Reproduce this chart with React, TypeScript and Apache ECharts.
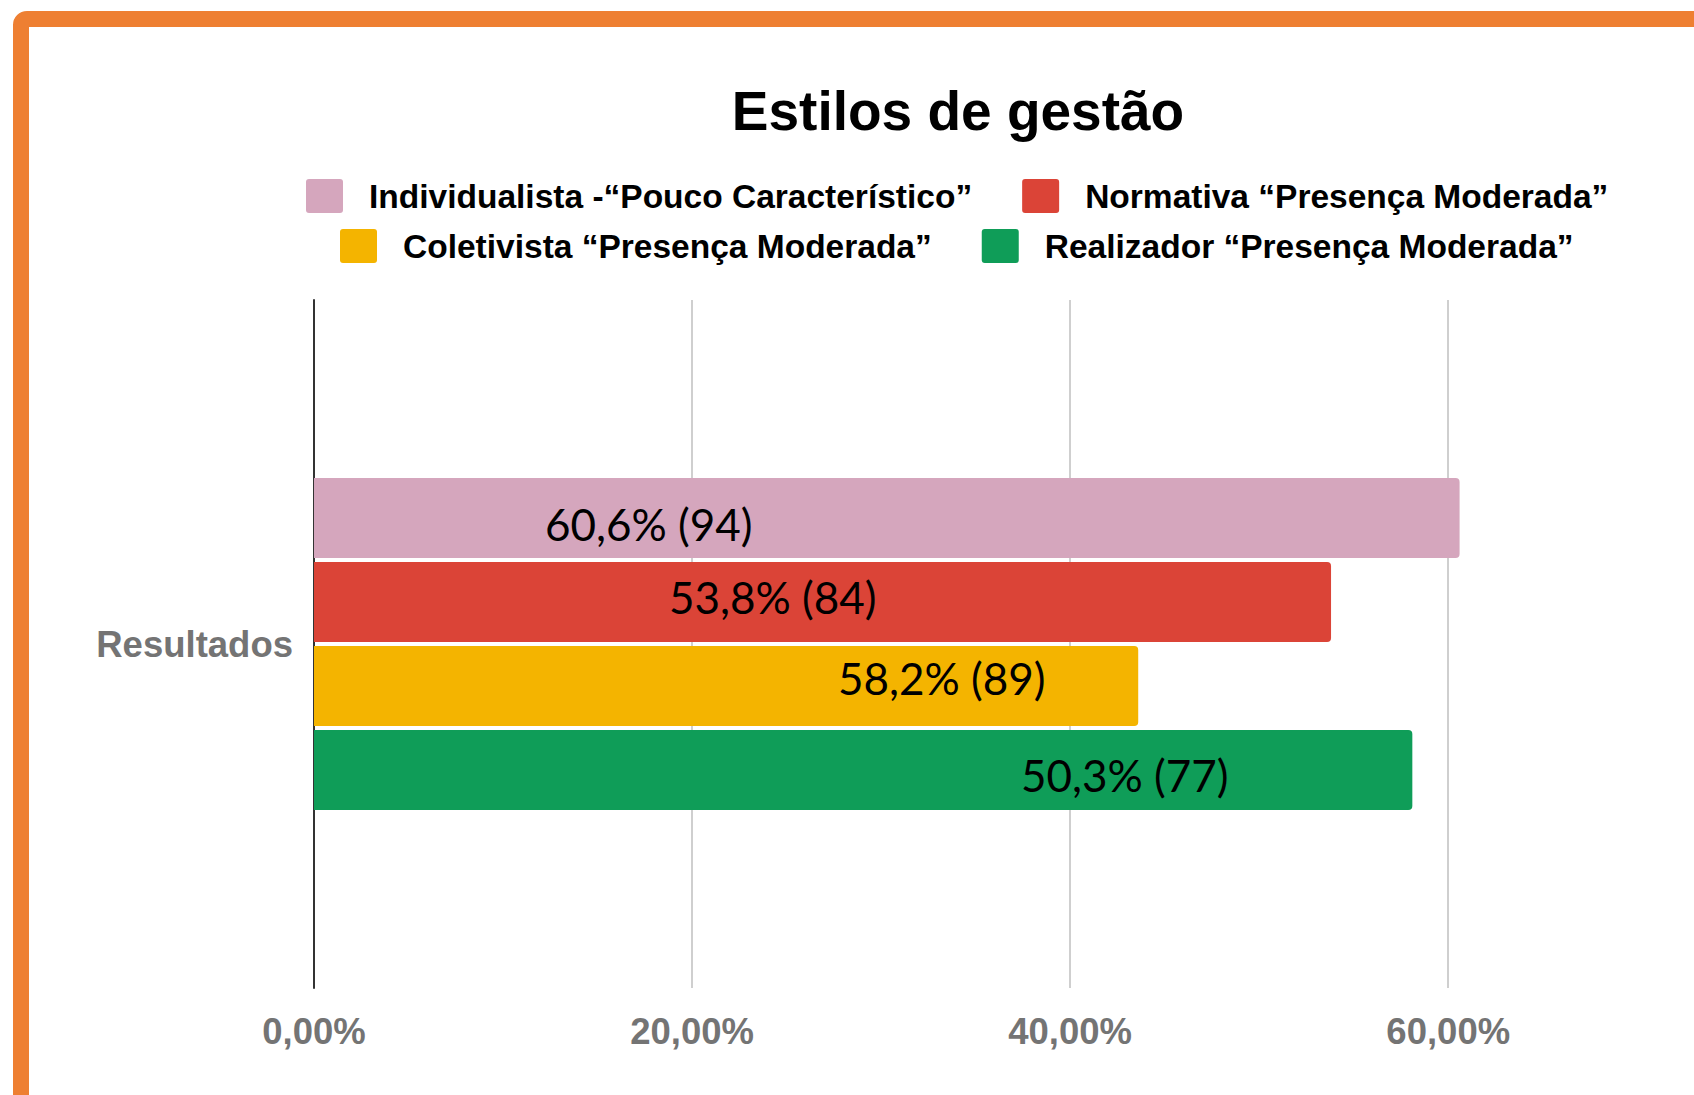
import React, { useEffect, useRef } from "react";
import * as echarts from "echarts";

// ---- data ----
const categories = ["Resultados"];
const seriesNames = [
  "Individualista -“Pouco Característico”",
  "Normativa “Presença Moderada”",
  "Coletivista “Presença Moderada”",
  "Realizador “Presença Moderada”",
];
const seriesValues = [60.6, 53.8, 43.6, 58.1];
const barLabelTexts = ["60,6% (94)", "53,8% (84)", "58,2% (89)", "50,3% (77)"];
const xTickValues = [0, 20, 40, 60];
const titleText = "Estilos de gestão";

// ---- styles ----
const seriesColors = ["#D5A6BD", "#DB4437", "#F4B400", "#0F9D58"];
const labelPlacement = [
  [231, 46],
  [355, 35],
  [524, 32],
  [707, 45],
];

const ARIAL = "Arial, 'Liberation Sans', sans-serif";
const MARKER =
  "path://M3,0 H34 Q37,0 37,3 V31 Q37,34 34,34 H3 Q0,34 0,31 V3 Q0,0 3,0 Z";

export default function App() {
  const ref = useRef<HTMLDivElement>(null);

  useEffect(() => {
    if (!ref.current) return;
    const chart = echarts.init(ref.current, null, { renderer: "svg" });

    const legendItem = (names: string[], left: number, top: number) => ({
      data: names,
      left,
      top,
      orient: "horizontal",
      padding: 0,
      itemGap: 50,
      itemWidth: 37,
      itemHeight: 34,
      icon: MARKER,
      selectedMode: false,
      textStyle: {
        fontFamily: ARIAL,
        fontWeight: "bold",
        fontSize: 33.5,
        color: "#000",
        padding: [0, 0, 0, 21],
      },
    });

    const option: any = {
      animation: false,
      backgroundColor: "#fff",
      title: {
        text: titleText,
        left: 958,
        textAlign: "center",
        top: 83,
        padding: 0,
        textStyle: {
          fontFamily: ARIAL,
          fontWeight: "bold",
          fontSize: 55,
          color: "#000",
        },
      },
      legend: [
        legendItem([seriesNames[0], seriesNames[1]], 306, 179),
        legendItem([seriesNames[2], seriesNames[3]], 340, 229),
      ],
      grid: {
        left: 314,
        top: 300,
        width: 1380,
        height: 688,
        containLabel: false,
      },
      xAxis: {
        type: "value",
        min: 0,
        max: 73,
        interval: 20,
        axisLine: { show: false },
        axisTick: { show: false },
        splitLine: {
          show: true,
          showMaxLine: false,
          lineStyle: { color: "#cfcfcf", width: 2 },
        },
        axisLabel: {
          margin: 25,
          fontFamily: ARIAL,
          fontWeight: "bold",
          fontSize: 36.5,
          color: "#747474",
          showMaxLabel: false,
          formatter: (v: number) =>
            xTickValues.includes(v) ? v.toFixed(2).replace(".", ",") + "%" : "",
        },
      },
      yAxis: {
        type: "category",
        data: categories,
        axisLine: { show: true, lineStyle: { color: "#333", width: 2 } },
        axisTick: { show: false },
        axisLabel: {
          margin: 21,
          fontFamily: ARIAL,
          fontWeight: "bold",
          fontSize: 36.5,
          color: "#747474",
        },
      },
      series: seriesNames.map((name, i) => ({
        name,
        type: "bar",
        data: [seriesValues[i]],
        barWidth: 80,
        barGap: "5%",
        itemStyle: { color: seriesColors[i], borderRadius: [0, 4, 4, 0] },
        label: {
          show: true,
          position: labelPlacement[i],
          align: "left",
          verticalAlign: "middle",
          formatter: () => barLabelTexts[i],
          fontFamily: "Lato, 'Open Sans', sans-serif",
          fontSize: 44,
          color: "#000",
        },
      })),
      graphic: [
        {
          type: "rect",
          silent: true,
          z: 100,
          shape: { x: 21, y: 19, width: 1800, height: 1300, r: 6 },
          style: { fill: "none", stroke: "#EE7F32", lineWidth: 16 },
        },
      ],
    };

    chart.setOption(option);
    return () => chart.dispose();
  }, []);

  return (
    <div
      ref={ref}
      style={{ position: "fixed", left: 0, top: 0, width: 1694, height: 1095 }}
    />
  );
}
